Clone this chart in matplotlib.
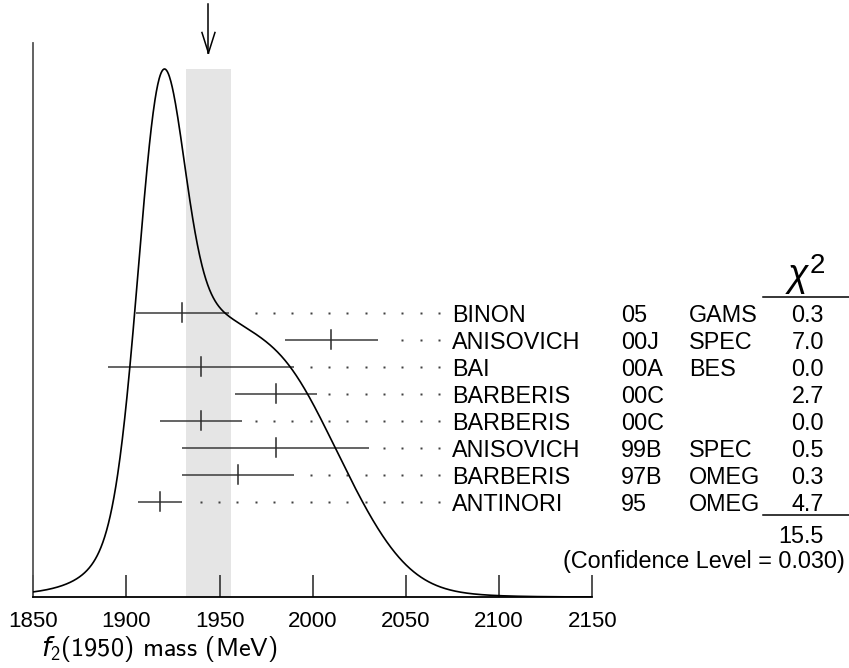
import numpy as np
import matplotlib
matplotlib.use("Agg")
import matplotlib.pyplot as plt
from matplotlib.lines import Line2D
from matplotlib.transforms import blended_transform_factory

# ---------------- data ----------------
authors = ["BINON", "ANISOVICH", "BAI", "BARBERIS", "BARBERIS", "ANISOVICH", "BARBERIS", "ANTINORI"]
years = ["05", "00J", "00A", "00C", "00C", "99B", "97B", "95"]
experiments = ["GAMS", "SPEC", "BES", "", "", "SPEC", "OMEG", "OMEG"]
mass = [1930, 2010, 1940, 1980, 1940, 1980, 1960, 1918]
mass_err = [25, 25, 50, 22, 22, 50, 30, 12]
chi2 = ["0.3", "7.0", "0.0", "2.7", "0.0", "0.5", "0.3", "4.7"]
chi2_total = "15.5"
conf_level = "(Confidence Level = 0.030)"
avg_mass = 1944
avg_err = 12
xticks = [1850, 1900, 1950, 2000, 2050, 2100, 2150]
xlabel = r"$f_2$(1950) mass (MeV)"

# ---------------- style ----------------
plt.rcParams['font.family'] = ['Liberation Sans', 'DejaVu Sans']
plt.rcParams['mathtext.fontset'] = 'custom'
plt.rcParams['mathtext.rm'] = 'cmss10'
plt.rcParams['mathtext.it'] = 'DejaVu Sans:italic'

W, H = 849, 668
fig = plt.figure(figsize=(W / 100, H / 100), dpi=100)

def fx(px):
    return px / W

def fy(py):
    return 1 - py / H

ax_left, ax_right, ax_top, ax_bottom = 33.3, 592.3, 43, 597
peak_px = 69
ax = fig.add_axes([fx(ax_left), fy(ax_bottom), fx(ax_right) - fx(ax_left), fy(ax_top) - fy(ax_bottom)])
ytop = (ax_bottom - ax_top) / (ax_bottom - peak_px)
ax.set_xlim(xticks[0], xticks[-1])
ax.set_ylim(0, ytop)

def row_y(px):
    return (ax_bottom - px) / (ax_bottom - peak_px)

# ideogram curve
m = np.array(mass, float)
e = np.array(mass_err, float)
xs = np.linspace(xticks[0], xticks[-1], 1200)
curve = np.zeros_like(xs)
for mi, ei in zip(m, e):
    curve += np.exp(-0.5 * ((xs - mi) / ei) ** 2) / ei ** 2
curve /= curve.max()

ax.axvspan(avg_mass - avg_err, avg_mass + avg_err, ymin=0, ymax=1 / ytop, color='#e5e5e5', lw=0, zorder=0)
ax.plot(xs, curve, color='black', lw=1.2, zorder=3)

# error bars and dotted leaders
row0_px, row_step = 312.7, 27.0
px_per_mev = (ax_right - ax_left) / (xticks[-1] - xticks[0])
dot_last, dot_step = 2067.8, 9.84
tick_half = 9.5 / (ax_bottom - peak_px)
for i, (mi, ei) in enumerate(zip(mass, mass_err)):
    y = row_y(row0_px + i * row_step)
    ax.plot([mi - ei, mi + ei], [y, y], color='#3a3a3a', lw=1.1, zorder=2, solid_capstyle='butt')
    ax.plot([mi, mi], [y - tick_half, y + tick_half], color='#2a2a2a', lw=1.1, zorder=2)
    dots = dot_last - dot_step * np.arange(0, 40)
    dots = dots[dots > mi + ei + 6.6]
    ax.plot(dots, np.full_like(dots, y), ls='none', marker='s', ms=1.6, mec='none', mfc='#404040',
            clip_on=False)

# axes styling
for s in ['top', 'right']:
    ax.spines[s].set_visible(False)
ax.spines['left'].set_color('#555555')
ax.spines['left'].set_linewidth(1.3)
ax.spines['bottom'].set_color('black')
ax.spines['bottom'].set_linewidth(1.3)
ax.set_yticks([])
ax.set_xticks(xticks)
ax.set_xticklabels([str(t) for t in xticks])
ax.tick_params(axis='x', direction='in', length=16, width=1.1, color='#222222', pad=10, labelsize=16)
ax.patch.set_alpha(0)

# x label
fig.text(fx(41), fy(656.5), xlabel, fontfamily='cmss10', fontsize=19, va='baseline', ha='left')

# arrow at average
tr = blended_transform_factory(ax.transData, fig.transFigure)
wing = 6.5 / px_per_mev
for xx, yy in [([avg_mass, avg_mass], [fy(4), fy(53)]),
               ([avg_mass - wing, avg_mass], [fy(32.5), fy(53)]),
               ([avg_mass + wing, avg_mass], [fy(32.5), fy(53)])]:
    fig.add_artist(Line2D(xx, yy, transform=tr, color='black', lw=1.1))

# table text
fs = 16.8
for i in range(len(authors)):
    base = row0_px + i * row_step + 9.0
    fig.text(fx(451.7), fy(base), authors[i], fontsize=fs, va='baseline', ha='left')
    fig.text(fx(621), fy(base), years[i], fontsize=fs, va='baseline', ha='left')
    fig.text(fx(689.3), fy(base), experiments[i], fontsize=fs, va='baseline', ha='left')
    fig.text(fx(824), fy(base), chi2[i], fontsize=fs, va='baseline', ha='right')

fig.text(fx(824), fy(543.3), chi2_total, fontsize=fs, va='baseline', ha='right')
fig.text(fx(845), fy(568.3), conf_level, fontsize=fs, va='baseline', ha='right')

fig.text(fx(788), fy(286), "\u03c7", fontsize=27, fontstyle='italic', va='baseline', ha='left')
fig.text(fx(810), fy(273.3), "2", fontsize=20, va='baseline', ha='left')
fig.add_artist(Line2D([fx(762.7), 1.0], [fy(297.3), fy(297.3)], color='black', lw=1.1))
fig.add_artist(Line2D([fx(762.7), 1.0], [fy(515), fy(515)], color='black', lw=1.1))

fig.savefig("out.png", dpi=100)
